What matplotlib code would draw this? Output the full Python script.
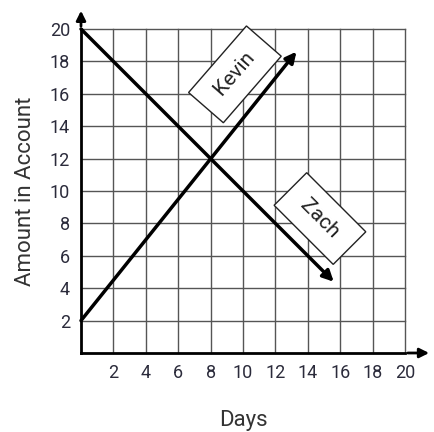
import matplotlib.pyplot as plt

days_ticks = [2, 4, 6, 8, 10, 12, 14, 16, 18, 20]
amount_ticks = [2, 4, 6, 8, 10, 12, 14, 16, 18, 20]

# lines: start point and arrow tip
kevin_x = [0, 13.3]
kevin_y = [2, 18.6]
zach_x = [0, 15.6]
zach_y = [20, 4.4]

plt.rcParams['font.family'] = ['Roboto', 'DejaVu Sans']

fig = plt.figure(figsize=(4.35, 4.32), dpi=100)
ax = fig.add_axes([81 / 435, 79 / 432, 324 / 435, 324 / 432])
ax.set_xlim(0, 20)
ax.set_ylim(0, 20)

for v in days_ticks:
    ax.axvline(v, color='#555555', lw=1, zorder=1, clip_on=False)
for v in amount_ticks:
    ax.axhline(v, color='#555555', lw=1, zorder=1, clip_on=False)

for s in ['top', 'right']:
    ax.spines[s].set_visible(False)
ax.spines['left'].set_linewidth(2)
ax.spines['bottom'].set_linewidth(2)

# axis arrows
ax.annotate('', xy=(1.083, 0), xytext=(1.0, 0), xycoords='axes fraction',
            arrowprops=dict(arrowstyle='-|>', color='black', lw=2, mutation_scale=14))
ax.annotate('', xy=(0, 1.065), xytext=(0, 1.0), xycoords='axes fraction',
            arrowprops=dict(arrowstyle='-|>', color='black', lw=2, mutation_scale=14))

# data lines
ax.annotate('', xy=(kevin_x[1], kevin_y[1]), xytext=(kevin_x[0], kevin_y[0]),
            arrowprops=dict(arrowstyle='-|>', color='black', lw=2.5, mutation_scale=16,
                            shrinkA=0, shrinkB=0), zorder=3)
ax.annotate('', xy=(zach_x[1], zach_y[1]), xytext=(zach_x[0], zach_y[0]),
            arrowprops=dict(arrowstyle='-|>', color='black', lw=2.5, mutation_scale=16,
                            shrinkA=0, shrinkB=0), zorder=3)

box = dict(boxstyle='square,pad=0.65', fc='white', ec='#222222', lw=1)
ax.text(9.5, 17.2, ' Kevin ', rotation=49, ha='center', va='center', fontsize=15,
        color='#222222', bbox=box, zorder=4, rotation_mode='anchor')
ax.text(14.75, 8.3, ' Zach ', rotation=-45, ha='center', va='center', fontsize=15,
        color='#222222', bbox=box, zorder=4, rotation_mode='anchor')

ax.set_xticks(days_ticks)
ax.set_yticks(amount_ticks)
ax.tick_params(length=0, labelsize=13, labelcolor='#2b2b3b', pad=8)

ax.set_xlabel('Days', fontsize=16, color='#333333', labelpad=20)
ax.set_ylabel('Amount in Account', fontsize=16, color='#333333', labelpad=10)

fig.savefig('out.png', dpi=100)
